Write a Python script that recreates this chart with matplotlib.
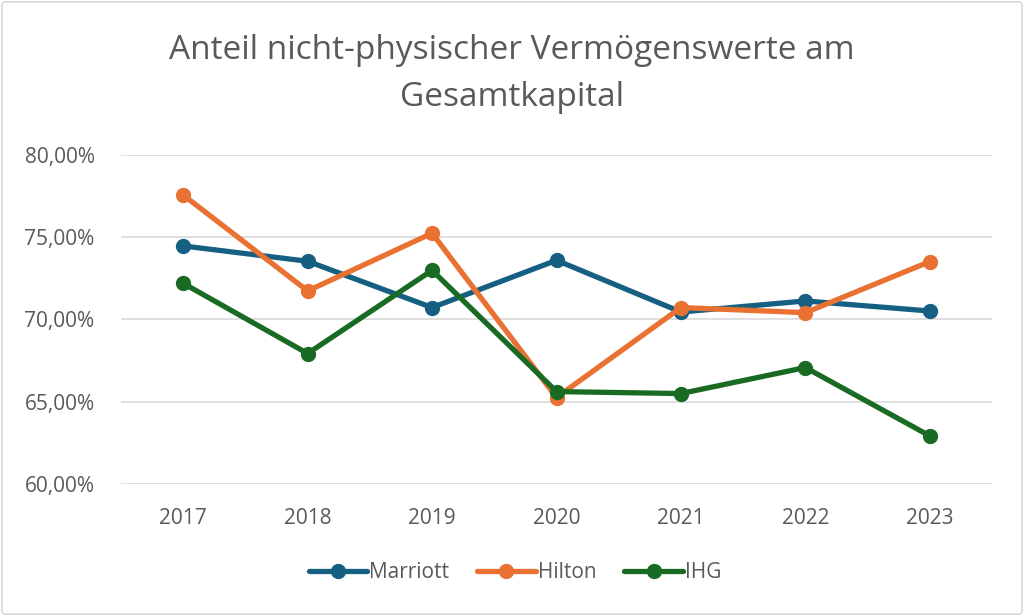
import matplotlib
matplotlib.use("Agg")
import matplotlib.pyplot as plt
from matplotlib.patches import FancyBboxPatch
from matplotlib.ticker import FuncFormatter

years = ["2017", "2018", "2019", "2020", "2021", "2022", "2023"]
marriott = [74.45, 73.52, 70.71, 73.58, 70.44, 71.11, 70.50]
hilton = [77.54, 71.72, 75.22, 65.25, 70.71, 70.40, 73.50]
ihg = [72.18, 67.92, 72.97, 65.61, 65.49, 67.07, 62.92]

title = "Anteil nicht-physischer Vermögenswerte am\nGesamtkapital"
series_names = ["Marriott", "Hilton", "IHG"]
colors = ["#156082", "#E97132", "#196B24"]
text_color = "#595959"

plt.rcParams['font.family'] = ['Open Sans', 'DejaVu Sans']

fig = plt.figure(figsize=(10.24, 6.16), dpi=100)
ax = fig.add_axes([121/1024, 1 - 484/616, (992-121)/1024, (484-154.5)/616])

x = list(range(len(years)))
for vals, name, c in zip([marriott, hilton, ihg], series_names, colors):
    ax.plot(x, [v/100 for v in vals], color=c, lw=3.8, marker='o', ms=10,
            label=name, solid_capstyle='round', solid_joinstyle='round')

ax.set_xlim(-0.5, 6.5)
ax.set_ylim(0.60, 0.80)
ax.set_yticks([0.60, 0.65, 0.70, 0.75, 0.80])
ax.yaxis.set_major_formatter(FuncFormatter(lambda v, p: f"{v*100:.2f}%".replace(".", ",")))
ax.set_xticks(x)
ax.set_xticklabels(years)
ax.grid(axis='y', color='#D9D9D9', lw=1.2)
ax.set_axisbelow(True)
for s in ax.spines.values():
    s.set_visible(False)
ax.tick_params(axis='both', length=0, labelsize=15, labelcolor=text_color)
ax.tick_params(axis='y', pad=19)
ax.tick_params(axis='x', pad=17)

fig.text(0.5, 1 - 74/616, title, ha='center', va='center', fontsize=24,
         color=text_color, linespacing=1.55)

leg = ax.legend(loc='center', bbox_to_anchor=(515/1024, 1 - 573/616),
                bbox_transform=fig.transFigure, ncol=3, frameon=False,
                fontsize=15, handlelength=2.8, columnspacing=1.35,
                handletextpad=0.1)
for t in leg.get_texts():
    t.set_color(text_color)

border = FancyBboxPatch((0.002, 0.003), 0.996, 0.994, boxstyle="round,pad=0,rounding_size=0.004",
                        transform=fig.transFigure, fill=False, edgecolor='#D9D9D9', lw=1.2)
fig.patches.append(border)

fig.savefig("out.png", dpi=100, facecolor='white')
